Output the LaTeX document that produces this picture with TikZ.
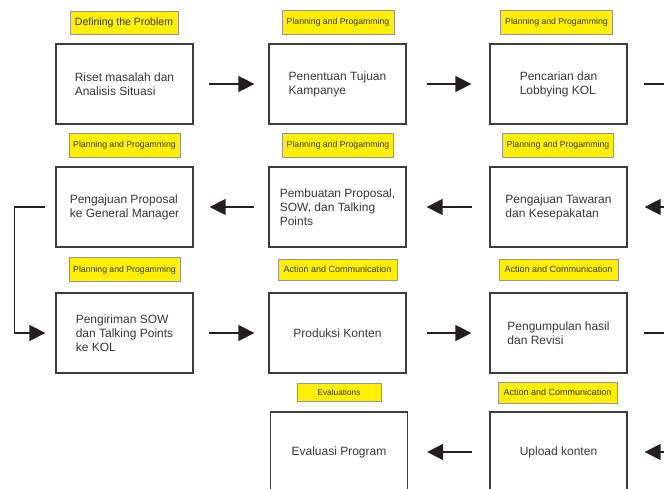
\documentclass[tikz,border=0pt]{standalone}
\usepackage{fontspec}
\setmainfont{Liberation Sans}
\usetikzlibrary{arrows.meta}
\definecolor{lblyellow}{RGB}{255,240,0}
\definecolor{lblborder}{RGB}{150,150,150}
\definecolor{boxline}{RGB}{60,60,60}
\definecolor{arrowc}{RGB}{35,31,32}
\definecolor{txt}{RGB}{55,55,55}
\begin{document}
\begin{tikzpicture}[x=1pt,y=-1pt,
  stepbox/.style={draw=boxline, line width=1.3pt, minimum width=137pt, minimum height=80pt,
    inner sep=0pt, font=\fontsize{12}{14}\selectfont, text=txt, align=left},
  tag/.style={draw=lblborder, fill=lblyellow, line width=0.8pt, inner sep=0pt, text=txt,
    text height=0.72em, text depth=0.12em},
  plantag/.style={tag, minimum width=111pt, minimum height=24pt, font=\fontsize{8.7}{10}\selectfont},
  acttag/.style={tag, minimum width=119pt, minimum height=21pt, font=\fontsize{9}{10}\selectfont},
  flow/.style={draw=arrowc, line width=1.5pt, -{Triangle[length=16pt,width=16pt]}},
  plainline/.style={draw=arrowc, line width=1.5pt}]
\useasboundingbox (0,0) rectangle (664,489);
\fill[white] (0,0) rectangle (664,489);

% step boxes
\node[stepbox] (b1) at (124.5,84) {Riset masalah dan\\Analisis Situasi};
\node[stepbox] (b2) at (337.5,84) {Penentuan Tujuan\\Kampanye};
\node[stepbox] (b3) at (558.5,84) {Pencarian dan\\Lobbying KOL};
\node[stepbox] (b4) at (124.5,207) {Pengajuan Proposal\\ke General Manager};
\node[stepbox] (b5) at (337.5,207) {Pembuatan Proposal,\\SOW, dan Talking\\Points};
\node[stepbox] (b6) at (558.5,207) {Pengajuan Tawaran\\dan Kesepakatan};
\node[stepbox] (b7) at (124.5,333) {Pengiriman SOW\\dan Talking Points\\ke KOL};
\node[stepbox] (b8) at (337.5,333) {Produksi Konten};
\node[stepbox] (b9) at (558.5,333) {Pengumpulan hasil\\dan Revisi};
\node[stepbox] (b10) at (339,452) {Evaluasi Program};
\node[stepbox] (b11) at (558.5,452) {Upload konten};

% phase tags
\node[tag, minimum width=108pt, minimum height=23pt, font=\fontsize{10.5}{12}\selectfont] (t1) at (124,22.5) {Defining the Problem};
\node[plantag, minimum width=112pt] (t2) at (338,22) {Planning and Progamming};
\node[plantag, minimum width=112pt] (t3) at (556.5,22) {Planning and Progamming};
\node[plantag] (t4) at (124.5,145) {Planning and Progamming};
\node[plantag] (t5) at (338,145) {Planning and Progamming};
\node[plantag] (t6) at (558,145) {Planning and Progamming};
\node[plantag] (t7) at (124.5,269.5) {Planning and Progamming};
\node[acttag] (t8) at (337.5,269.5) {Action and Communication};
\node[acttag] (t9) at (558.5,269.5) {Action and Communication};
\node[tag, minimum width=84pt, minimum height=18pt, font=\fontsize{8.3}{10}\selectfont] (t10) at (339,392) {Evaluations};
\node[acttag] (t11) at (557.5,392.5) {Action and Communication};

% free ends at the right edge
\coordinate (r1) at (664,84);
\coordinate (r2) at (690,207);
\coordinate (r3) at (664,333);
\coordinate (r4) at (690,452);

% connectors
\draw[flow, shorten <=15pt, shorten >=14pt] (b1) -- (b2);
\draw[flow, shorten <=20pt, shorten >=18pt] (b2) -- (b3);
\draw[plainline, shorten <=16pt] (b3) -- (r1);
\draw[flow, shorten >=17pt] (r2) -- (b6);
\draw[flow, shorten <=17pt, shorten >=20pt] (b6) -- (b5);
\draw[flow, shorten <=14pt, shorten >=16pt] (b5) -- (b4);
\draw[flow, shorten <=10pt, shorten >=10pt] (b4.west) -- ++(-41,0) |- (b7.west);
\draw[flow, shorten <=15pt, shorten >=14pt] (b7) -- (b8);
\draw[flow, shorten <=20pt, shorten >=18pt] (b8) -- (b9);
\draw[plainline, shorten <=16pt] (b9) -- (r3);
\draw[flow, shorten >=17pt] (r4) -- (b11);
\draw[flow, shorten <=17pt, shorten >=19pt] (b11) -- (b10);
\end{tikzpicture}
\end{document}
